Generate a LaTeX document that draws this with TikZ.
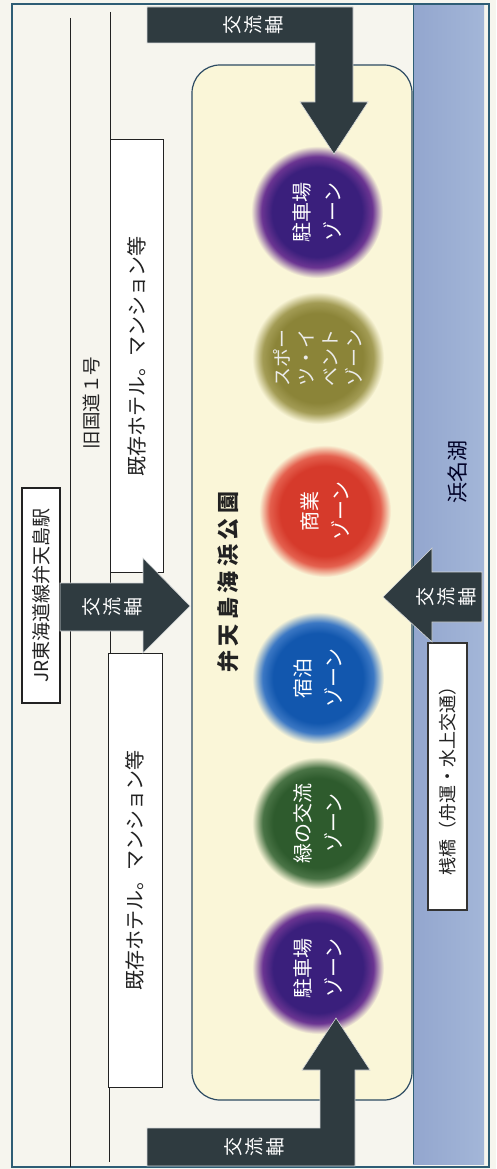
\documentclass[tikz,border=0pt]{standalone}
\usepackage{fontspec}
\setmainfont{Noto Sans CJK JP}
\definecolor{bgc}{HTML}{F6F5EE}
\definecolor{parkbg}{HTML}{FAF6D8}
\definecolor{parkline}{HTML}{2C4A62}
\definecolor{framec}{HTML}{2E5D75}
\definecolor{waterL}{HTML}{93A6CE}
\definecolor{waterR}{HTML}{A3B6D8}
\definecolor{arrowc}{HTML}{2F3B40}
\definecolor{txtc}{HTML}{222222}
\definecolor{purpA}{HTML}{3A1F7C}
\definecolor{purpB}{HTML}{6B3592}
\definecolor{oliveA}{HTML}{8B8438}
\definecolor{oliveB}{HTML}{A39C55}
\definecolor{redA}{HTML}{D63A2B}
\definecolor{redB}{HTML}{E4604E}
\definecolor{blueA}{HTML}{1257AE}
\definecolor{blueB}{HTML}{3C78C4}
\definecolor{greenA}{HTML}{2E5B2D}
\definecolor{greenB}{HTML}{4A7446}
\pgfdeclareradialshading{zpurple}{\pgfpoint{0bp}{0bp}}{color(0bp)=(purpA); color(17bp)=(purpA); color(21bp)=(purpB); color(25bp)=(parkbg); color(50bp)=(parkbg)}
\pgfdeclareradialshading{zolive}{\pgfpoint{0bp}{0bp}}{color(0bp)=(oliveA); color(17bp)=(oliveA); color(21bp)=(oliveB); color(25bp)=(parkbg); color(50bp)=(parkbg)}
\pgfdeclareradialshading{zred}{\pgfpoint{0bp}{0bp}}{color(0bp)=(redA); color(17bp)=(redA); color(21bp)=(redB); color(25bp)=(parkbg); color(50bp)=(parkbg)}
\pgfdeclareradialshading{zblue}{\pgfpoint{0bp}{0bp}}{color(0bp)=(blueA); color(17bp)=(blueA); color(21bp)=(blueB); color(25bp)=(parkbg); color(50bp)=(parkbg)}
\pgfdeclareradialshading{zgreen}{\pgfpoint{0bp}{0bp}}{color(0bp)=(greenA); color(17bp)=(greenA); color(21bp)=(greenB); color(25bp)=(parkbg); color(50bp)=(parkbg)}
\begin{document}
\begin{tikzpicture}[x=1pt,y=-1pt,
  road/.style={draw=txtc, line width=0.9pt},
  boxc/.style={draw=txtc, fill=white, line width=1pt, rotate=90, inner sep=0pt, text=txtc},
  lbl/.style={rotate=90, inner sep=0pt, align=center, text=txtc},
  zone/.style={circle, minimum size=132pt, inner sep=0pt, rotate=90, align=center, text=white, font=\fontsize{20}{31}\selectfont},
  arrowtext/.style={rotate=90, text=white, align=center, inner sep=0pt, font=\fontsize{19}{21}\selectfont},
  arrowshape/.style={fill=arrowc, draw=white!80!arrowc, line width=0.6pt}]
\useasboundingbox (0,0) rectangle (496,1169);
\fill[bgc] (0,0) rectangle (496,1169);
% water strip
\shade[left color=waterL, right color=waterR] (413,4) rectangle (484,1164);
\draw[framec, line width=1pt] (413,4) -- (413,1164);
% outer frame
\draw[framec, line width=1.2pt] (12,4) rectangle (489,1167);
% roads
\draw[road] (70,18) -- (70,1167);
\draw[road] (110,12) -- (110,140);
\draw[road] (110,572) -- (110,653);
\draw[road] (109,1087) -- (109,1162);
% boxes on the left
\node[boxc, minimum width=432pt, minimum height=53pt, font=\fontsize{20}{20}\selectfont] (hotelA) at (136.5,356) {既存ホテル。マンション等};
\node[boxc, minimum width=434pt, minimum height=54pt, font=\fontsize{20}{20}\selectfont] (hotelB) at (135,870) {既存ホテル。マンション等};
\node[boxc, minimum width=215pt, minimum height=38pt, line width=1.4pt, font=\fontsize{19}{19}\selectfont] (jr) at (41,595.5) {JR東海道線弁天島駅};
\node[lbl, font=\fontsize{18.5}{18.5}\selectfont] (road1) at (91,403) {旧国道１号};
% park
\node[draw=parkline, fill=parkbg, line width=1.2pt, rounded corners=28pt, minimum width=220pt, minimum height=1035pt, inner sep=0pt] (park) at (302,582.5) {};
\node[lbl, font=\fontsize{22}{22}\bfseries] (title) at (228,582) {弁\kern4.5pt 天\kern4.5pt 島\kern4.5pt 海\kern4.5pt 浜\kern4.5pt 公\kern4.5pt 園};
% zones
\node[zone, shading=zpurple] (z1) at (317,212) {駐車場\\ゾーン};
\node[zone, shading=zolive, text=white!92!black, font=\fontsize{19}{24}\selectfont] (z2) at (318,358) {スポー\\ツ・イ\\ベント\\ゾーン};
\node[zone, shading=zred] (z3) at (325,511) {商業\\ゾーン};
\node[zone, shading=zblue] (z4) at (318,678) {宿泊\\ゾーン};
\node[zone, shading=zgreen] (z5) at (318,823) {緑の交流\\ゾーン};
\node[zone, shading=zpurple] (z6) at (318,968) {駐車場\\ゾーン};
% lake label and pier box
\node[lbl, font=\fontsize{21}{21}\selectfont, text=black!85!blue] (lake) at (458,472) {浜名湖};
\node[boxc, minimum width=267pt, minimum height=39pt, line width=2pt, draw=black!80, font=\fontsize{18}{18}\selectfont] (pier) at (447.5,776.5) {桟橋（舟運・水上交通）};
% arrows
\draw[arrowshape] (147,7) -- (353,7) -- (353,102) -- (368,102) -- (334,154) -- (300,102) -- (315,102) -- (315,43) -- (147,43) -- cycle;
\node[arrowtext] (axT) at (253,25) {交\\流\\軸};
\draw[arrowshape] (147,1166) -- (355,1166) -- (355,1070) -- (370,1070) -- (336,1018) -- (302,1070) -- (320,1070) -- (320,1128) -- (147,1128) -- cycle;
\node[arrowtext] (axB) at (254,1147) {交\\流\\軸};
\draw[arrowshape] (60,583) -- (143,583) -- (143,558) -- (190,606) -- (143,653) -- (143,631) -- (60,631) -- cycle;
\node[arrowtext] (axL) at (112,607) {交\\流\\軸};
\draw[arrowshape] (482,572) -- (432,572) -- (432,548) -- (383,597) -- (432,642) -- (432,622) -- (482,622) -- cycle;
\node[arrowtext] (axR) at (446,597) {交\\流\\軸};
\end{tikzpicture}
\end{document}
